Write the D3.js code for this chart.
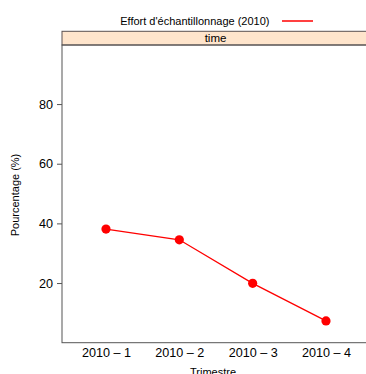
<!DOCTYPE html>
<html><head><meta charset="utf-8">
<script src="https://cdn.jsdelivr.net/npm/d3@7"></script>
<style>body{margin:0;background:#fff;} svg{display:block;font-family:"Liberation Sans",Arial,sans-serif;}</style>
</head><body>
<script>
const categories = ["2010 – 1","2010 – 2","2010 – 3","2010 – 4"];
const values = [38.1, 34.5, 19.9, 7.3];
const yTicks = [20, 40, 60, 80];
const legendLabel = "Effort d'échantillonnage (2010)";
const stripLabel = "time";
const xTitle = "Trimestre";
const yTitle = "Pourcentage (%)";

const W = 366, H = 374;
const L = 62, R = 370, T = 45, B = 342.7, stripTop = 31.3;
const svg = d3.select("body").append("svg").attr("width", W).attr("height", H);

const x = d3.scaleLinear().domain([0.4, categories.length + 0.6]).range([L, R]);
const y = d3.scaleLinear().domain([0, 99.8]).range([B, T]);

// strip
svg.append("rect").attr("x", L).attr("y", stripTop).attr("width", R - L).attr("height", T - stripTop)
  .attr("fill", "#ffe5cc").attr("stroke", "#5a5050").attr("stroke-width", 1);
svg.append("text").attr("x", 215.5).attr("y", (stripTop + T) / 2 + 4)
  .attr("text-anchor", "middle").attr("font-size", 11.5).text(stripLabel);

// panel
svg.append("rect").attr("x", L).attr("y", T).attr("width", R - L).attr("height", B - T)
  .attr("fill", "none").attr("stroke", "#555").attr("stroke-width", 1);

// y axis
const yAxis = d3.axisLeft(y).tickValues(yTicks).tickSize(5).tickPadding(4);
const gy = svg.append("g").attr("transform", `translate(${L},0)`).call(yAxis);
gy.select(".domain").remove();
gy.selectAll("line").attr("stroke", "#555");
gy.selectAll("text").attr("font-size", 12.6).attr("fill", "#000").attr("font-family", "Liberation Sans, Arial, sans-serif");

// x axis
const xAxis = d3.axisBottom(x).tickValues(d3.range(1, categories.length + 1))
  .tickFormat(i => categories[i - 1]).tickSize(0).tickPadding(5);
const gx = svg.append("g").attr("transform", `translate(0,${B})`).call(xAxis);
gx.select(".domain").remove();
gx.selectAll("text").attr("font-size", 12.6).attr("fill", "#000").attr("font-family", "Liberation Sans, Arial, sans-serif");

// titles
svg.append("text").attr("x", 213).attr("y", 375.5).attr("text-anchor", "middle").attr("font-size", 11).text(xTitle);
svg.append("text").attr("transform", `translate(18.5,195) rotate(-90)`)
  .attr("text-anchor", "middle").attr("font-size", 11).text(yTitle);

// legend
svg.append("text").attr("x", 269.5).attr("y", 25).attr("text-anchor", "end").attr("font-size", 11).text(legendLabel);
svg.append("line").attr("x1", 282).attr("x2", 313).attr("y1", 21).attr("y2", 21)
  .attr("stroke", "#ff0000").attr("stroke-width", 1.5);

// data
const pts = values.map((v, i) => [x(i + 1), y(v)]);
svg.append("path").attr("d", d3.line()(pts)).attr("fill", "none").attr("stroke", "#ff0000").attr("stroke-width", 1.3);
svg.selectAll("circle.pt").data(values).enter().append("circle")
  .attr("cx", (d, i) => x(i + 1)).attr("cy", d => y(d)).attr("r", 4.6).attr("fill", "#ff0000");
</script>
</body></html>
